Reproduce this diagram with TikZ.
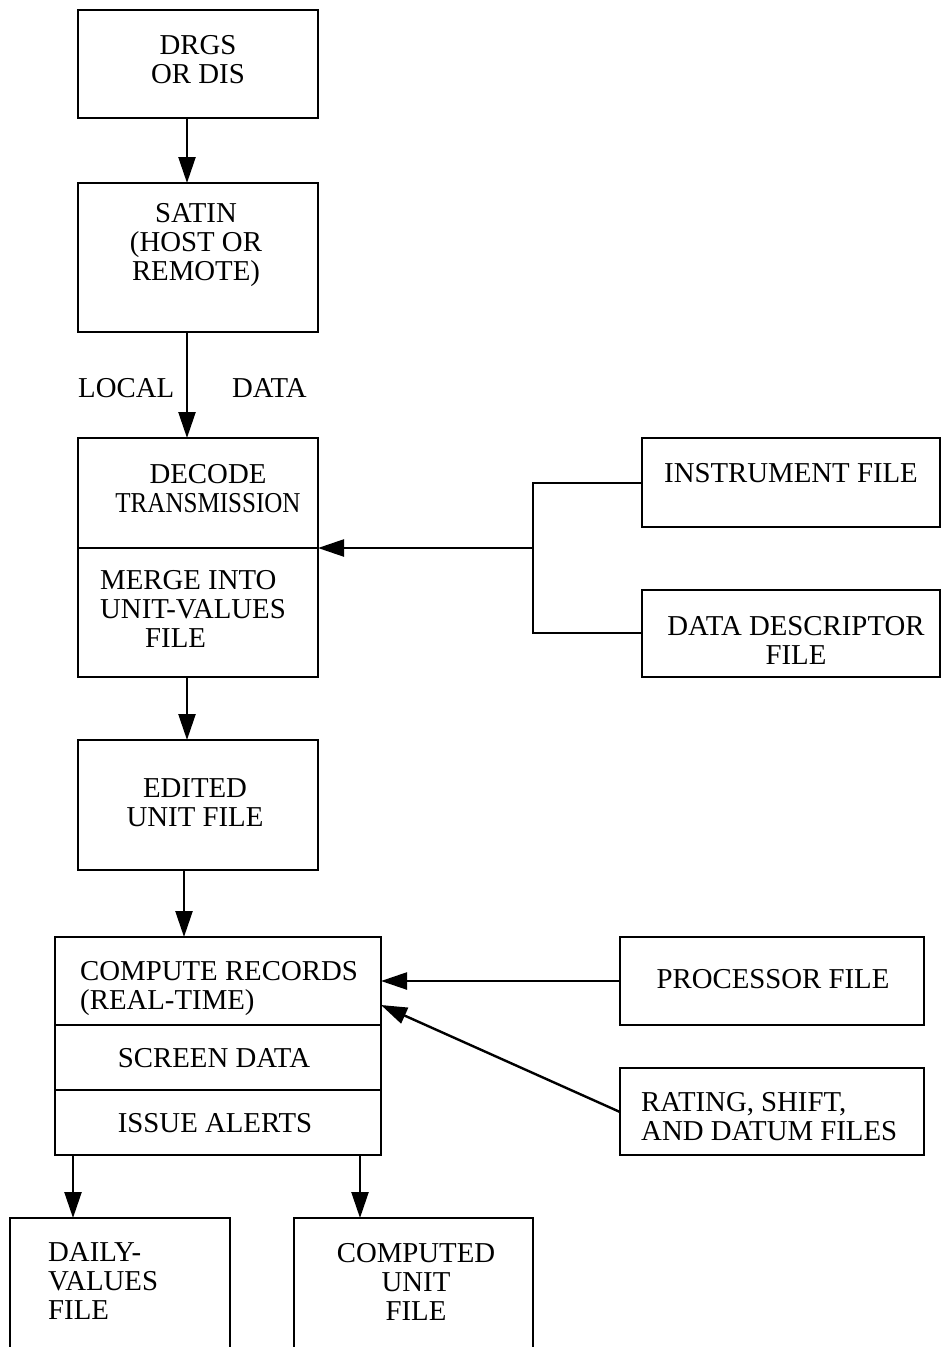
\documentclass[tikz,border=0pt]{standalone}
\usepackage{fontspec}
\setmainfont{Liberation Serif}
\usetikzlibrary{arrows.meta,positioning}
\begin{document}
\begin{tikzpicture}[x=1pt,y=-1pt,
  box/.style={draw,line width=2.4pt,inner sep=0pt,outer sep=0pt,anchor=north west},
  txt/.style={font=\fontsize{28.8}{29}\selectfont,inner sep=0pt,align=center},
  arr/.style={line width=2.4pt,-{Triangle[length=26pt,width=17pt]}},
  ln/.style={line width=2.4pt}]
\useasboundingbox (0,0) rectangle (942,1347);
% main column boxes
\node[box,minimum width=240pt,minimum height=108pt] (drgs) at (78,10) {};
\node[txt] (tdrgs) at (198,60) {DRGS\\OR DIS};
\node[box,minimum width=240pt,minimum height=149pt] (satin) at (78,183) {};
\node[txt] (tsatin) at (196,245) {SATIN\\(HOST OR\\REMOTE)};
\node[txt,anchor=west] (tlocal) at (78,388) {LOCAL};
\node[txt,anchor=west] (tdata) at (232,388) {DATA};
\node[box,minimum width=240pt,minimum height=110pt] (decode) at (78,438) {};
\node[box,minimum width=240pt,minimum height=129pt] (merge) at (78,548) {};
\node[txt] (tdecode) at (208,489) {DECODE\\\scalebox{0.87}[1]{TRANSMISSION}};
\node[txt,align=left,anchor=north west] (tmerge) at (100,570) {MERGE INTO\\UNIT-VALUES\\\hspace*{45pt}FILE};
\node[box,minimum width=240pt,minimum height=130pt] (edited) at (78,740) {};
\node[txt] (tedited) at (195,803) {EDITED\\UNIT FILE};
% compute block
\node[box,minimum width=326pt,minimum height=88pt] (compute) at (55,937) {};
\node[box,minimum width=326pt,minimum height=65pt] (screen) at (55,1025) {};
\node[box,minimum width=326pt,minimum height=65pt] (issue) at (55,1090) {};
\node[txt,align=left,anchor=north west] (tcompute) at (80,961) {COMPUTE RECORDS\\(REAL-TIME)};
\node[txt] (tscreen) at (214,1058) {SCREEN DATA};
\node[txt] (tissue) at (215,1123) {ISSUE ALERTS};
% right side files
\node[box,minimum width=298pt,minimum height=89pt] (instr) at (642,438) {};
\node[txt] (tinstr) at (791,473) {INSTRUMENT FILE};
\node[box,minimum width=298pt,minimum height=87pt] (ddesc) at (642,590) {};
\node[txt] (tddesc) at (796,640) {DATA DESCRIPTOR\\FILE};
\node[box,minimum width=304pt,minimum height=88pt] (proc) at (620,937) {};
\node[txt] (tproc) at (773,979) {PROCESSOR FILE};
\node[box,minimum width=304pt,minimum height=87pt] (rating) at (620,1068) {};
\node[txt,align=left,anchor=north west] (trating) at (641,1092) {RATING, SHIFT,\\AND DATUM FILES};
% bottom open boxes
\coordinate (dvtl) at (10,1218);
\coordinate (dvtr) at (230,1218);
\coordinate (cutl) at (294,1218);
\coordinate (cutr) at (533,1218);
\draw[ln] (10,1350) -- (dvtl) -- (dvtr) -- (230,1350);
\draw[ln] (294,1350) -- (cutl) -- (cutr) -- (533,1350);
\node[txt,align=left,anchor=north west] (tdaily) at (48,1242) {DAILY-\\VALUES\\FILE};
\node[txt] (tcomp) at (416,1282) {COMPUTED\\UNIT\\FILE};
% arrows in main column
\draw[arr] (drgs.south -| 187,0) -- (satin.north -| 187,0);
\draw[arr] (satin.south -| 187,0) -- (decode.north -| 187,0);
\draw[arr] (merge.south -| 187,0) -- (edited.north -| 187,0);
\draw[arr] (edited.south -| 184,0) -- (compute.north -| 184,0);
\draw[arr] (issue.south -| 73,0) -- (dvtl -| 73,0);
\draw[arr] (issue.south -| 360,0) -- (cutl -| 360,0);
% bracket from instrument and descriptor files
\coordinate (brk) at (533,548);
\draw[ln] (instr.west |- 0,483) -- (533,483) -- (533,633) -- (ddesc.west |- 0,633);
\draw[arr] (brk) -- (decode.south east);
% processor and rating arrows
\draw[arr] (proc.west |- 0,981) -- (compute.east |- 0,981);
\draw[arr] (rating.west |- 0,1112) -- (381,1005);
\end{tikzpicture}
\end{document}
